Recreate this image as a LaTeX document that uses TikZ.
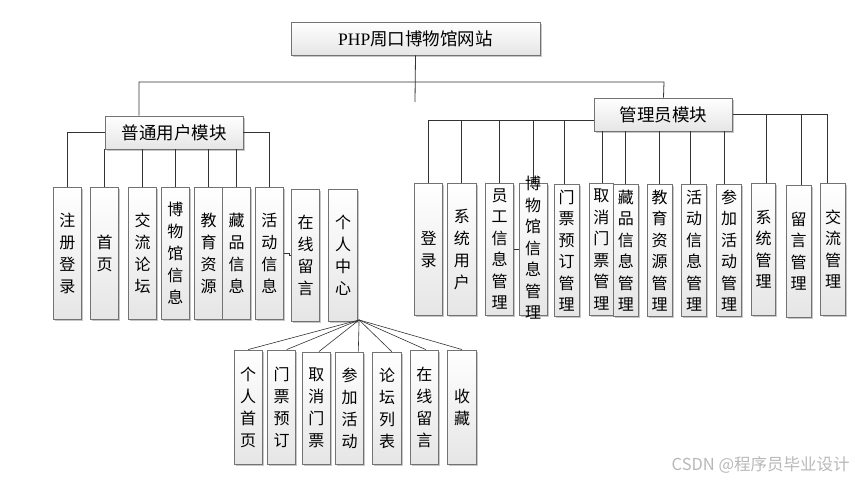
\documentclass[tikz,border=0pt]{standalone}
\usepackage{fontspec}
\setmainfont{Liberation Serif}
\newfontfamily\cjk{Noto Sans CJK SC}
\usetikzlibrary{shadows,calc}
\tikzset{
  box/.style={draw=black!55, line width=0.9pt, top color=white, bottom color=black!10,
    drop shadow={shadow xshift=1.6pt, shadow yshift=-1.6pt, fill=black!40, opacity=0.55},
    inner sep=0pt, align=center},
  modbox/.style={box, minimum width=138pt, minimum height=33pt, font=\cjk\fontsize{17.5}{20}\selectfont},
  leaf/.style={box, minimum width=28.3pt, minimum height=132pt, font=\cjk\fontsize{16}{22}\selectfont},
  leafn/.style={leaf, minimum width=24.6pt, font=\cjk\fontsize{16}{21.5}\selectfont},
  sub/.style={leaf, minimum height=114pt},
  vtxt/.style={inner sep=0pt, align=center, font=\cjk\fontsize{16}{21.5}\selectfont},
  conn/.style={draw=black!80, line width=0.8pt},
  wmark/.style={text=black!28, font=\cjk\fontsize{16.5}{18}\selectfont, inner sep=0pt},
}
\newcommand\vlink[3]{\draw[conn] ($(#1.north)+(#2,0)$) -- ($(#1.north |- #3)+(#2,0)$);}
\begin{document}
\begin{tikzpicture}[x=1pt,y=-1pt]
\useasboundingbox (0,0) rectangle (855,480);

% top
\node[box, minimum width=249pt, minimum height=33pt, font=\fontsize{17.5}{20}\selectfont] (T) at (415.5,38.5) {PHP{\cjk 周口博物馆网站}};
\node[modbox] (M1) at (174,132.5) {普通用户模块};
\node[modbox] (M2) at (663.5,114.5) {管理员模块};

% left leaves
\node[leaf] (b1) at (67.5,253) {注\\册\\登\\录};
\node[leaf] (b2) at (104.7,253) {首\\页};
\node[leaf] (b3) at (142.5,253) {交\\流\\论\\坛};
\node[leaf] (b4) at (175.3,253) {博\\物\\馆\\信\\息};
\node[leaf] (b5) at (208.5,253) {教\\育\\资\\源};
\node[leaf] (b6) at (236.7,253) {藏\\品\\信\\息};
\node[leaf] (b7) at (269.3,253) {活\\动\\信\\息};
\node[leaf] (b8) at (305.5,255) {在\\线\\留\\言};
\node[leaf] (b9) at (343,255) {个\\人\\中\\心};

% right leaves
\node[leaf] (r1) at (428.5,249.2) {登\\录};
\node[leaf] (r2) at (461.8,249.2) {系\\统\\用\\户};
\node[leaf, font=\cjk\fontsize{16}{21.5}\selectfont] (r3) at (499.5,249.2) {员\\工\\信\\息\\管\\理};
\node[leaf] (r4) at (533.2,249.2) {};
\node[leafn] (r5) at (566.7,250.8) {门\\票\\预\\订\\管\\理};
\node[leafn] (r6) at (601.3,249.5) {取\\消\\门\\票\\管\\理};
\node[leafn] (r7) at (625.8,250.8) {藏\\品\\信\\息\\管\\理};
\node[leafn] (r8) at (659.7,250.8) {教\\育\\资\\源\\管\\理};
\node[leafn] (r9) at (694,250.8) {活\\动\\信\\息\\管\\理};
\node[leafn] (r10) at (729.2,250.8) {参\\加\\活\\动\\管\\理};
\node[leafn] (r11) at (763.5,249.2) {系\\统\\管\\理};
\node[leafn] (r12) at (798.7,251) {留\\言\\管\\理};
\node[leafn] (r13) at (833.2,249.2) {交\\流\\管\\理};

% bottom leaves
\node[sub] (k1) at (248.2,407) {个\\人\\首\\页};
\node[sub] (k2) at (281.7,407) {门\\票\\预\\订};
\node[sub, minimum height=112pt] (k3) at (316.3,408) {取\\消\\门\\票};
\node[sub, minimum height=112pt] (k4) at (349.7,408) {参\\加\\活\\动};
\node[sub, minimum height=112pt] (k5) at (387,408) {论\\坛\\列\\表};
\node[sub] (k6) at (424.3,407) {在\\线\\留\\言};
\node[sub] (k7) at (462,407) {收\\藏};

% connectors: top
\coordinate (jl) at (139,82);
\coordinate (jr) at (664,82);
\coordinate (jd) at (415,102);
\draw[conn] (T.south) -- (jd);
\draw[conn] ($(M1.north)+(-35,0)$) -- (jl) -- (jr) -- (M2.north);

% left module
\draw[conn] (M1.west) -| (b1.north);
\draw[conn] (M1.east) -| (b7.north);
\foreach \b in {b2,b3,b4,b5,b6}{\vlink{\b}{0}{M1.south}}
\draw[conn] (b7.east) -- ++(5,0) |- (b8.west);

% right module
\coordinate (yR) at (0,120);
\draw[conn] (M2.west |- yR) -- (r1.north |- yR) -- (r1.north);
\foreach \r in {r2,r3,r4}{\vlink{\r}{0}{yR}}
\vlink{r5}{-2.7}{yR}
\vlink{r6}{1}{M2.south}
\vlink{r7}{0}{M2.south}
\vlink{r8}{0}{M2.south}
\vlink{r9}{-4}{M2.south}
\vlink{r10}{-4.7}{M2.south}
\vlink{r11}{2.8}{M2.east}
\vlink{r12}{2.7}{M2.east}
\draw[conn] (M2.east) -| ($(r13.north)+(-5.7,0)$);
\draw[conn] (r3.east) -- (r4.west);

% overflowing text
\node[vtxt] (r4t) at (533.2,248) {博\\物\\馆\\信\\息\\管\\理};

% fan from personal centre
\coordinate (fo) at ($(b9.south east)+(1.5,-1.5)$);
\draw[conn, line width=0.6pt] (fo) -- (k1.north);
\draw[conn, line width=0.6pt] (fo) -- ($(k2.north)+(5,0)$);
\draw[conn, line width=0.6pt] (fo) -- ($(k3.north)+(2.7,0)$);
\draw[conn, line width=0.6pt] (fo) -- ($(k4.north)+(8.6,0)$);
\draw[conn, line width=0.6pt] (fo) -- ($(k5.north)+(4.7,0)$);
\draw[conn, line width=0.6pt] (fo) -- ($(k6.north)+(1.4,0)$);
\draw[conn, line width=0.6pt] (fo) -- (k7.north);

% watermark
\node[wmark, anchor=west] (wm) at (671.5,464.5) {CSDN @程序员毕业设计};
\end{tikzpicture}
\end{document}
